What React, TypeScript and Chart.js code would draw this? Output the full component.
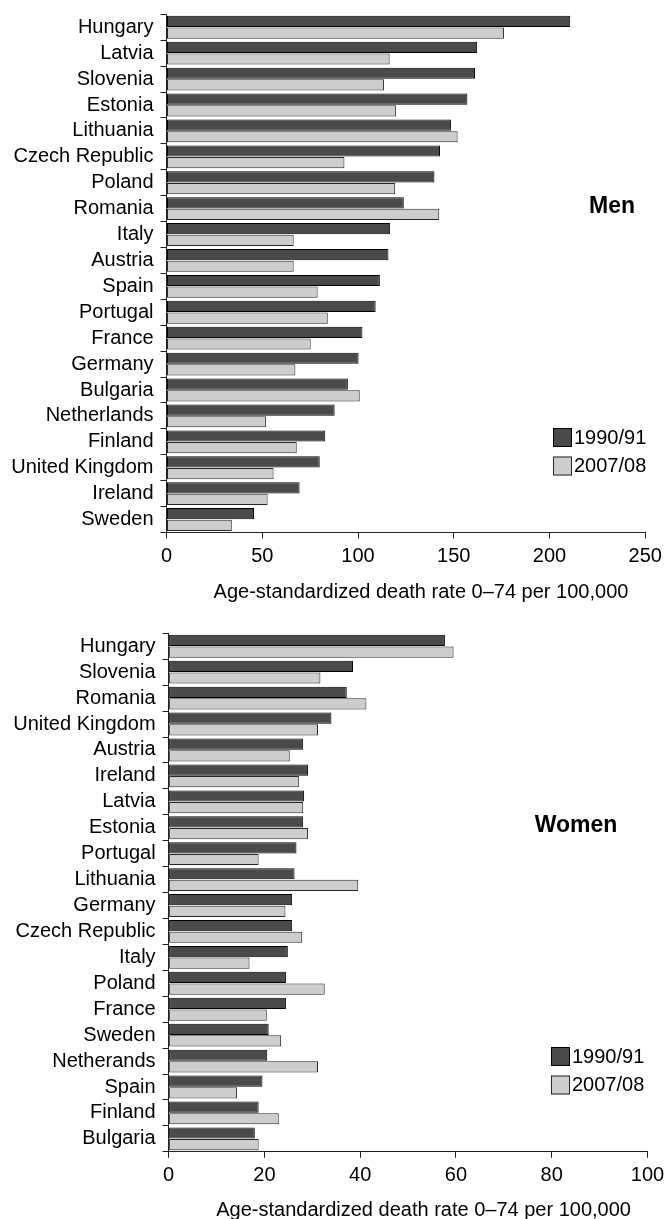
import React, { useEffect, useRef } from "react";
import { Chart, registerables } from "chart.js";

Chart.register(...registerables);

// ---------- DATA ----------
const seriesLabels = ["1990/91", "2007/08"];
const axisTitle = "Age-standardized death rate 0\u201374 per 100,000";

const menCountries = [
  "Hungary", "Latvia", "Slovenia", "Estonia", "Lithuania", "Czech Republic", "Poland",
  "Romania", "Italy", "Austria", "Spain", "Portugal", "France", "Germany", "Bulgaria",
  "Netherlands", "Finland", "United Kingdom", "Ireland", "Sweden",
];
const men1990 = [
  210.8, 162.2, 161.1, 157.1, 148.6, 142.8, 139.9, 123.9, 116.8, 115.9, 111.4,
  109.2, 102.3, 100.3, 94.7, 87.8, 82.9, 80.0, 69.5, 45.7,
];
const men2007 = [
  176.2, 116.5, 113.6, 119.9, 152.0, 92.9, 119.4, 142.4, 66.4, 66.4, 78.9,
  84.2, 75.3, 67.3, 100.9, 51.9, 68.0, 55.9, 52.8, 34.1,
];
const menAxisMax = 250;
const menAxisStep = 50;

const womenCountries = [
  "Hungary", "Slovenia", "Romania", "United Kingdom", "Austria", "Ireland", "Latvia",
  "Estonia", "Portugal", "Lithuania", "Germany", "Czech Republic", "Italy", "Poland",
  "France", "Sweden", "Netherands", "Spain", "Finland", "Bulgaria",
];
const women1990 = [
  57.7, 38.5, 37.2, 34.0, 28.1, 29.1, 28.3, 28.1, 26.7, 26.3, 25.8,
  25.8, 24.9, 24.5, 24.5, 20.9, 20.6, 19.6, 18.8, 18.0,
];
const women2007 = [
  59.5, 31.7, 41.3, 31.2, 25.3, 27.2, 28.1, 29.1, 18.8, 39.6, 24.4,
  27.9, 16.9, 32.6, 20.5, 23.5, 31.2, 14.3, 23.0, 18.8,
];
const womenAxisMax = 100;
const womenAxisStep = 20;

// ---------- STYLE ----------
const FONT = "'Liberation Sans', Arial, Helvetica, sans-serif";
const DARK_FILL = "#4a4a4a";
const DARK_BORDER = "#000000";
const LIGHT_FILL = "#cdcdcd";
const LIGHT_BORDER = "#262626";
const AXIS_COLOR = "#222222";
const W = 666;

type PanelCfg = {
  labels: string[];
  a: number[];
  b: number[];
  max: number;
  step: number;
  sexLabel: string;
  top: number;
  height: number;
  area: { left: number; right: number; top: number; bottom: number };
  legend: { x: number; y: number; gap: number };
  sexPos: { x: number; y: number };
  titlePos: { x: number; y: number };
};

const overlayPlugin = (cfg: PanelCfg) => ({
  id: "overlay_" + cfg.sexLabel,
  afterDraw(chart: any) {
    const ctx = chart.ctx as CanvasRenderingContext2D;
    ctx.save();
    ctx.fillStyle = "#000";
    ctx.font = `bold 23px ${FONT}`;
    ctx.textAlign = "center";
    ctx.textBaseline = "middle";
    ctx.fillText(cfg.sexLabel, cfg.sexPos.x, cfg.sexPos.y);
    ctx.font = `20px ${FONT}`;
    ctx.fillText(axisTitle, cfg.titlePos.x, cfg.titlePos.y);
    const ds = chart.data.datasets;
    ds.forEach((d: any, i: number) => {
      const bx = cfg.legend.x;
      const by = cfg.legend.y + i * cfg.legend.gap;
      ctx.fillStyle = d.backgroundColor;
      ctx.fillRect(bx, by, 19, 19);
      ctx.strokeStyle = d.borderColor;
      ctx.lineWidth = 1;
      ctx.strokeRect(bx + 0.5, by + 0.5, 18, 18);
      ctx.fillStyle = "#000";
      ctx.textAlign = "left";
      ctx.textBaseline = "middle";
      ctx.font = `20px ${FONT}`;
      ctx.fillText(d.label, bx + 21, by + 10);
    });
    ctx.restore();
  },
});

function Panel({ cfg }: { cfg: PanelCfg }) {
  const ref = useRef<HTMLCanvasElement | null>(null);
  useEffect(() => {
    if (!ref.current) return;
    const barCommon = {
      borderWidth: 1,
      borderSkipped: false,
      categoryPercentage: 0.9,
      barPercentage: 0.96,
    };
    const chart = new Chart(ref.current, {
      type: "bar",
      data: {
        labels: cfg.labels,
        datasets: [
          {
            label: seriesLabels[0],
            data: cfg.a,
            backgroundColor: DARK_FILL,
            borderColor: DARK_BORDER,
            ...barCommon,
          },
          {
            label: seriesLabels[1],
            data: cfg.b,
            backgroundColor: LIGHT_FILL,
            borderColor: LIGHT_BORDER,
            ...barCommon,
          },
        ],
      },
      options: {
        indexAxis: "y",
        animation: false,
        responsive: false,
        maintainAspectRatio: false,
        layout: {
          padding: { left: 0, top: cfg.area.top, right: W - cfg.area.right, bottom: 0 },
        },
        plugins: {
          legend: { display: false },
          tooltip: { enabled: false },
          title: { display: false },
        },
        scales: {
          x: {
            type: "linear",
            min: 0,
            max: cfg.max,
            ticks: {
              stepSize: cfg.step,
              color: "#000",
              font: { family: FONT, size: 20 },
              padding: 6,
              maxRotation: 0,
            },
            grid: {
              drawOnChartArea: false,
              drawTicks: true,
              tickLength: 6,
              color: AXIS_COLOR,
              lineWidth: 1,
            },
            border: { display: true, color: AXIS_COLOR, width: 1 },
            afterFit: (s: any) => {
              s.height = cfg.height - cfg.area.bottom;
              s.paddingLeft = 0;
              s.paddingRight = 0;
            },
          },
          y: {
            ticks: {
              color: "#000",
              font: { family: FONT, size: 20 },
              padding: 7,
              autoSkip: false,
            },
            grid: {
              drawOnChartArea: false,
              drawTicks: true,
              tickLength: 6,
              color: AXIS_COLOR,
              lineWidth: 1,
              offset: true,
            },
            border: { display: true, color: AXIS_COLOR, width: 1 },
            afterFit: (s: any) => {
              s.width = cfg.area.left;
              s.paddingTop = 0;
              s.paddingBottom = 0;
            },
          },
        },
      } as any,
      plugins: [overlayPlugin(cfg)],
    });
    return () => chart.destroy();
  }, [cfg]);
  return (
    <div style={{ position: "absolute", left: 0, top: cfg.top, width: W, height: cfg.height }}>
      <canvas ref={ref} width={W} height={cfg.height} style={{ width: W, height: cfg.height, display: "block" }} />
    </div>
  );
}

const menCfg: PanelCfg = {
  labels: menCountries,
  a: men1990,
  b: men2007,
  max: menAxisMax,
  step: menAxisStep,
  sexLabel: "Men",
  top: 0,
  height: 605,
  area: { left: 166.5, right: 645.3, top: 14.3, bottom: 532.5 },
  legend: { x: 553, y: 428, gap: 28.5 },
  sexPos: { x: 612, y: 207 },
  titlePos: { x: 421, y: 592 },
};

const womenCfg: PanelCfg = {
  labels: womenCountries,
  a: women1990,
  b: women2007,
  max: womenAxisMax,
  step: womenAxisStep,
  sexLabel: "Women",
  top: 605,
  height: 614,
  area: { left: 168.6, right: 647.5, top: 28.3, bottom: 546.8 },
  legend: { x: 551, y: 442, gap: 28.5 },
  sexPos: { x: 576, y: 221 },
  titlePos: { x: 423.6, y: 605 },
};

export default function App() {
  return (
    <div
      style={{
        position: "absolute",
        left: 0,
        top: 0,
        width: W,
        height: 1219,
        background: "#ffffff",
        overflow: "hidden",
      }}
    >
      <Panel cfg={menCfg} />
      <Panel cfg={womenCfg} />
    </div>
  );
}
